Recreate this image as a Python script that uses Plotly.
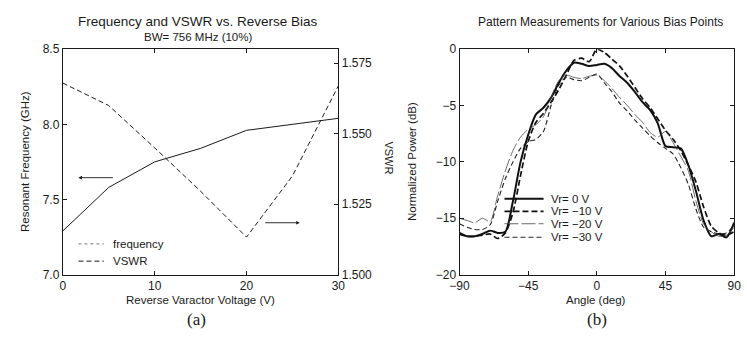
import plotly.graph_objects as go

# ---------------- data ----------------
voltage = [0, 5, 10, 15, 20, 25, 30]
frequency = [7.29, 7.58, 7.75, 7.84, 7.96, 8.00, 8.04]
vswr = [1.568, 1.560, 1.545, 1.5296, 1.5133, 1.535, 1.567]

angle = [-90, -85, -80, -75, -70, -65, -60, -55, -50, -45, -40, -35, -30, -25, -20, -15, -10, -5,
         0, 5, 10, 15, 20, 25, 30, 35, 40, 45, 50, 55, 60, 65, 70, 75, 80, 85, 90]
vr0 = [-16.4, -16.6, -16.6, -16.4, -16.1, -16.3, -16.2, -13.5, -10.0, -7.6, -5.8, -5.2, -4.3, -3.0, -1.9, -1.2, -1.3, -1.5,
       -1.4, -1.3, -1.7, -2.4, -3.0, -3.8, -4.7, -5.4, -6.6, -8.6, -8.7, -8.8, -10.3, -12.6, -15.2, -16.6, -16.4, -16.7, -15.4]
vr10 = [-16.3, -16.6, -16.6, -16.5, -16.4, -16.8, -16.3, -14.5, -11.2, -8.2, -6.5, -5.7, -4.7, -3.6, -2.3, -1.0, -0.8, -1.1,
        0.0, -0.3, -0.9, -1.5, -2.4, -3.4, -4.4, -5.2, -6.2, -7.2, -8.0, -9.0, -10.3, -11.8, -14.0, -15.7, -16.3, -16.5, -16.2]
vr20 = [-15.0, -15.2, -15.4, -15.0, -15.3, -13.0, -10.8, -9.0, -7.8, -7.1, -6.7, -6.0, -4.3, -2.8, -2.3, -2.5, -2.6, -2.4,
        -2.3, -2.8, -3.5, -4.3, -5.0, -5.8, -6.5, -7.4, -7.8, -7.3, -8.3, -9.5, -10.8, -13.5, -15.5, -16.2, -16.6, -16.5, -15.8]
vr30 = [-15.5, -15.8, -16.0, -16.0, -15.6, -13.5, -11.5, -10.0, -8.8, -8.2, -8.0, -7.3, -5.0, -3.2, -2.5, -2.7, -2.8, -2.5,
        -2.2, -3.0, -3.8, -4.8, -5.5, -6.3, -7.0, -7.7, -8.3, -8.8, -9.3, -10.5, -12.0, -14.2, -15.8, -16.2, -16.4, -16.3, -15.6]

freq_ticks = [7.0, 7.5, 8.0, 8.5]
vswr_ticks = [1.500, 1.525, 1.550, 1.575]
volt_ticks = [0, 10, 20, 30]
angle_ticks = [-90, -45, 0, 45, 90]
power_ticks = [0, -5, -10, -15, -20]

legend_b = ["Vr= 0 V", "Vr= \u221210 V", "Vr= \u221220 V", "Vr= \u221230 V"]

# ---------------- layout helpers ----------------
W, H = 747, 342
def px(x):
    return min(1.0, max(0.0, x / W))
def py(y):
    return min(1.0, max(0.0, 1 - y / H))

FONT = "Liberation Sans, Arial, sans-serif"
INK = "#1a1a1a"

styles_b = [
    dict(color="#111", width=2.0, dash="solid"),
    dict(color="#111", width=1.7, dash="6px,3px"),
    dict(color="#444", width=0.8, dash="14px,3px"),
    dict(color="#222", width=1.1, dash="5px,3px"),
]

fig = go.Figure()

# (a) frequency and VSWR
fig.add_trace(go.Scatter(x=voltage, y=frequency, mode="lines", xaxis="x", yaxis="y",
                         line=dict(color=INK, width=1), showlegend=False))
fig.add_trace(go.Scatter(x=voltage, y=vswr, mode="lines", xaxis="x", yaxis="y3",
                         line=dict(color=INK, width=1, dash="5px,3px"), showlegend=False))

# (b) pattern measurements
for vals, st, name in zip([vr0, vr10, vr20, vr30], styles_b, legend_b):
    fig.add_trace(go.Scatter(x=angle, y=vals, mode="lines", xaxis="x2", yaxis="y2",
                             line=dict(shape="spline", smoothing=0.7, **st),
                             name=name, showlegend=False))

ydom = [py(279), py(44)]
axis_common = dict(showgrid=False, zeroline=False, showline=True, linecolor=INK, linewidth=1,
                   ticks="inside", ticklen=4, tickcolor=INK,
                   tickfont=dict(family=FONT, size=12, color=INK))

fig.update_layout(
    width=W, height=H, margin=dict(l=0, r=0, t=0, b=0),
    paper_bgcolor="white", plot_bgcolor="white",
    xaxis=dict(domain=[px(54), px(336)], range=[0, 30], tickvals=volt_ticks, anchor="y",
               mirror="ticks", **axis_common),
    yaxis=dict(domain=ydom, range=[7.0, 8.5], tickvals=freq_ticks, tickformat=".1f", anchor="x",
               **axis_common),
    yaxis3=dict(range=[1.5, 1.58], tickvals=vswr_ticks, tickformat=".3f", overlaying="y",
                side="right", anchor="x", **axis_common),
    xaxis2=dict(domain=[px(460), px(741)], range=[-90, 90], tickvals=angle_ticks, anchor="y2",
                mirror="ticks", **axis_common),
    yaxis2=dict(domain=ydom, range=[-20, 0], tickvals=power_ticks, anchor="x2",
                mirror="ticks", **axis_common),
)

ann = []
def text(x, y, s, size=12, anchor="center", angle=0, family=FONT):
    ann.append(dict(x=px(x), y=py(y), xref="paper", yref="paper", text=s, showarrow=False,
                    xanchor=anchor, yanchor="middle", textangle=angle,
                    font=dict(family=family, size=size, color=INK)))

# titles
text(192, 15, "Frequency and VSWR vs. Reverse Bias", size=13.5)
text(192, 31, "BW= 756 MHz (10%)", size=11.5)
text(604, 16, "Pattern Measurements for Various Bias Points", size=12)
# axis titles
text(195, 305, "Reverse Varactor Voltage (V)", size=11.5)
text(600, 305, "Angle (deg)", size=11.5)
text(16, 161, "Resonant Frequency (GHz)", size=11.5, angle=-90)
text(388, 157, "VSWR", size=11, angle=90)
text(412, 161, "Normalized Power (dB)", size=11.5, angle=-90)
# sub-figure labels
text(191, 326, "(a)", size=17, family="Liberation Serif, DejaVu Serif, serif")
text(601, 326, "(b)", size=17, family="Liberation Serif, DejaVu Serif, serif")

# arrows (a)
ann.append(dict(x=1.7, y=7.645, xref="x", yref="y", ax=36, ay=0, showarrow=True,
                arrowhead=2, arrowsize=0.8, arrowwidth=0.9, arrowcolor=INK, text=""))
ann.append(dict(x=25.8, y=7.345, xref="x", yref="y", ax=-36, ay=0, showarrow=True,
                arrowhead=2, arrowsize=0.8, arrowwidth=0.9, arrowcolor=INK, text=""))

# legend (a)
shapes = []
def sample(x0, x1, y, color, width, dash):
    shapes.append(dict(type="line", xref="paper", yref="paper", x0=px(x0), x1=px(x1),
                       y0=py(y), y1=py(y), line=dict(color=color, width=width, dash=dash)))

sample(70, 96, 247, "#777", 1, "dot")
text(103, 247, "frequency", size=11.5, anchor="left")
sample(70, 96, 265, INK, 1, "5px,3px")
text(103, 265, "VSWR", size=11.5, anchor="left")

# legend (b)
for i, (st, name) in enumerate(zip(styles_b, legend_b)):
    yy = [200, 213, 226, 240][i]
    sample(506, 546, yy, st["color"], st["width"], st["dash"])
    text(552, yy, name, size=11.5, anchor="left")

fig.update_layout(annotations=ann, shapes=shapes)
fig.write_html("out.html")
